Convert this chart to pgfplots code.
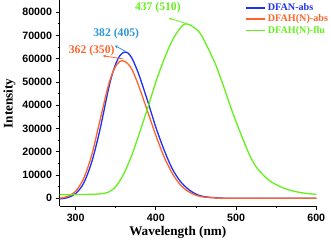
\documentclass[border=0pt]{standalone}
\usepackage{pgfplots}
\pgfplotsset{compat=1.18}
\usepackage{fontspec}
\setmainfont{Liberation Serif}
\newfontfamily\sansb{Liberation Sans}
\usetikzlibrary{arrows.meta}
\definecolor{cblue}{RGB}{30,50,245}
\definecolor{corange}{RGB}{255,100,45}
\definecolor{cgreen}{RGB}{102,240,30}
\definecolor{clblue}{RGB}{45,150,215}
\begin{document}
\begin{tikzpicture}
\begin{axis}[
  scale only axis, width=253pt, height=203pt,
  xmin=280, xmax=600, ymin=-3500, ymax=85000,
  axis lines=left, axis line style={-, line width=0.9pt},
  tick align=outside, major tick length=4pt, minor tick length=2pt,
  every tick/.style={black, line width=0.8pt},
  xtick={300,400,500,600}, minor xtick={350,450,550},
  ytick={0,10000,...,80000}, minor ytick={5000,15000,...,75000},
  scaled y ticks=false,
  /pgf/number format/assume math mode=true,
  /pgf/number format/set thousands separator={},
  tick label style={font=\sansb\bfseries\fontsize{10.5}{12}\selectfont},
  xlabel={Wavelength (nm)}, ylabel={Intensity},
  label style={font=\bfseries\fontsize{13}{15}\selectfont},
  xlabel style={xshift=-10pt, yshift=2pt},
  ylabel style={yshift=0pt},
  legend style={draw=none, fill=none, at={(rel axis cs:0.72,1.0)}, anchor=north west,
    font=\bfseries\fontsize{10}{12}\selectfont, row sep=-1.5pt, inner sep=1pt},
  legend cell align=left,
  legend image code/.code={\draw[#1, line width=1.4pt] (0,0) -- (0.65cm,0);},
]
\addplot[cblue, line width=1.3pt, smooth] coordinates {
(280,-300) (290,300) (300,2000) (310,6500) (320,15500) (330,29000) (340,45500)
(345,52500) (350,57800) (355,61200) (360,62700) (365,62500) (370,60300) (375,56500)
(380,52000) (390,41500) (400,30500)
(410,21000) (420,13000) (430,7500) (440,4000) (450,1800) (460,700) (480,100)
(500,0) (550,0) (600,0)};
\addlegendentry{\textcolor{cblue}{DFAN-abs}}
\addplot[corange, line width=1.3pt, smooth] coordinates {
(280,0) (290,800) (300,3000) (310,8500) (320,18500) (330,33000) (340,47500)
(345,53000) (350,56800) (355,58800) (360,59000) (365,57800) (370,55500) (375,51500)
(380,47000) (390,37000) (400,27000)
(410,18000) (420,11000) (430,6000) (440,3000) (450,1300) (460,500) (480,50)
(500,0) (550,0) (600,0)};
\addlegendentry{\textcolor{corange}{DFAH(N)-abs}}
\addplot[cgreen, line width=1.3pt, smooth] coordinates {
(280,1500) (300,1600) (320,1700) (330,1900) (340,2500) (350,5000) (360,10500)
(370,18500) (380,28500) (390,39000) (400,50000) (410,59500) (420,67500) (430,73000)
(437,75000) (445,74000) (455,71000) (465,64500) (475,57000) (485,47500) (495,37500)
(505,28500) (515,20000) (525,13500) (540,8000) (555,5000) (570,3200) (585,2200) (600,1700)};
\addlegendentry{\textcolor{cgreen}{DFAH(N)-flu}}
\draw[clblue, line width=0.8pt, -{Stealth[length=3pt,width=3pt]}] (axis cs:363,62950) -- (axis cs:349,65600);
\draw[corange, line width=0.8pt, -{Stealth[length=3pt,width=3pt]}] (axis cs:359.5,59900) -- (axis cs:334,61200);
\draw[cgreen, line width=0.8pt, -{Stealth[length=3pt,width=3pt]}] (axis cs:437,75200) -- (axis cs:416.5,77400);
\node[clblue, font=\bfseries\fontsize{11.5}{13}\selectfont] at (axis cs:350.6,70800) {382 (405)};
\node[corange, font=\bfseries\fontsize{11.5}{13}\selectfont] at (axis cs:320,63400) {362 (350)};
\node[cgreen, font=\bfseries\fontsize{11.5}{13}\selectfont] at (axis cs:402.5,81750) {437 (510)};
\end{axis}
\end{tikzpicture}
\end{document}
